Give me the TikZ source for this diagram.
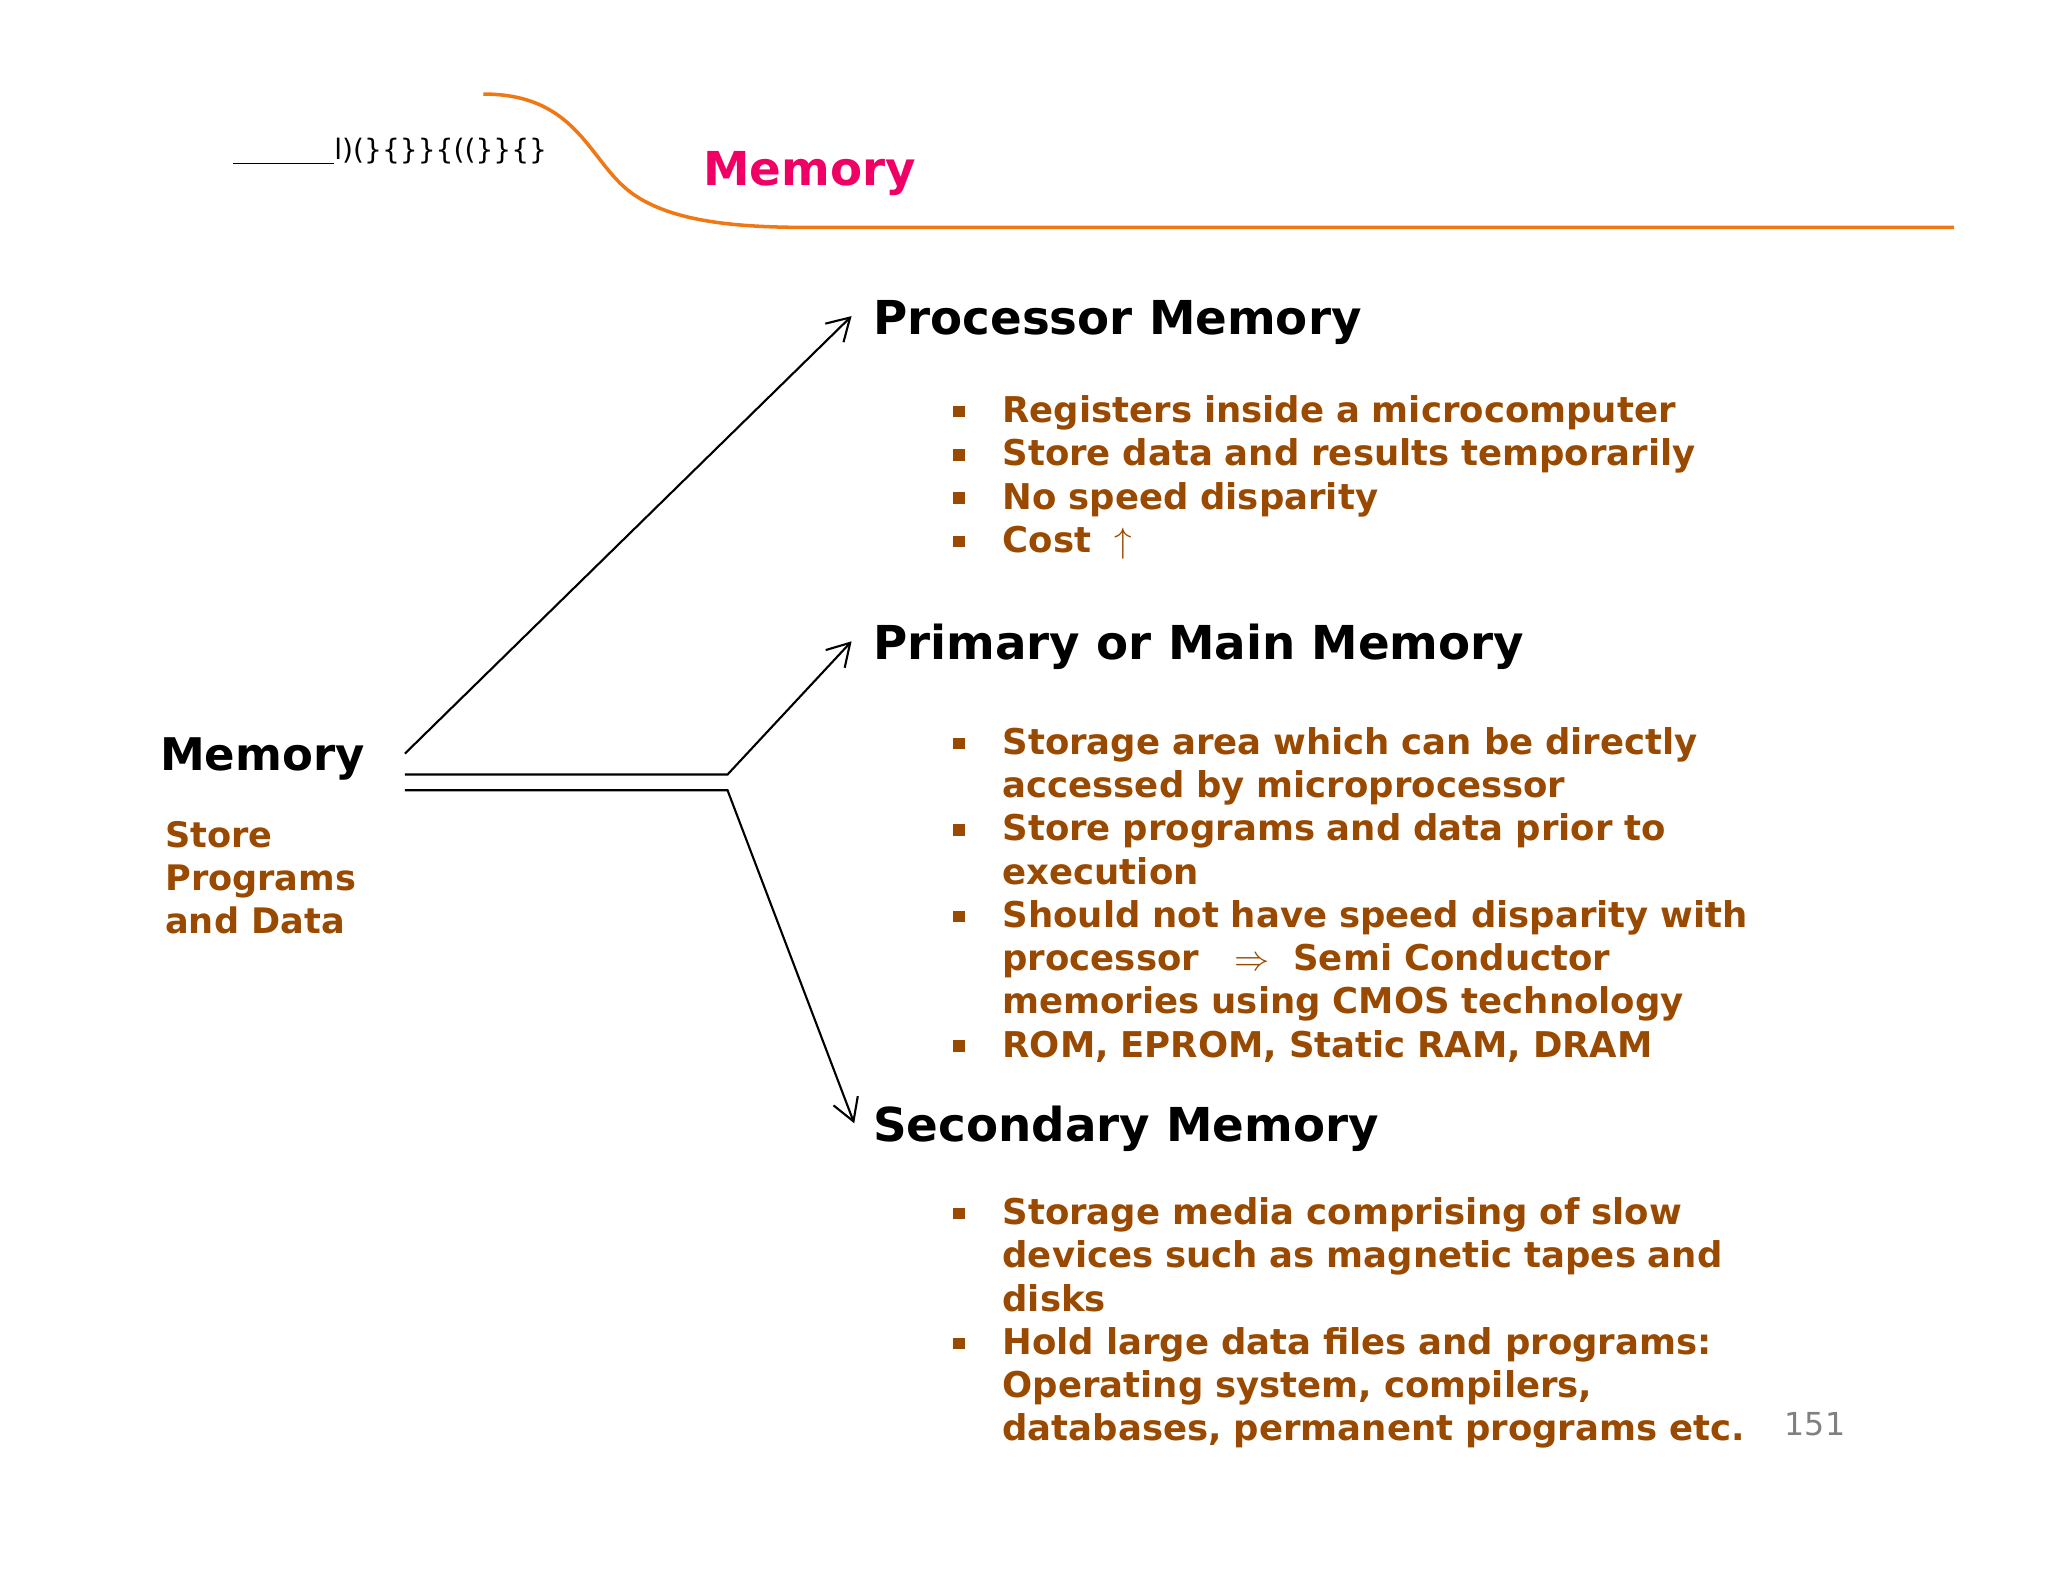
\documentclass[tikz,border=0pt]{standalone}
\usepackage{fontspec}
\usepackage{amssymb}
\usepackage{enumitem}
\setmainfont{DejaVu Sans}
\usetikzlibrary{positioning,arrows.meta}
\definecolor{brownish}{RGB}{153,74,0}
\definecolor{titlepink}{RGB}{240,0,100}
\definecolor{curveorange}{RGB}{240,120,20}
\newcommand{\blt}{\textcolor{brownish}{\rule[0.15em]{0.32em}{0.32em}}}
\setlist[itemize]{leftmargin=0.51cm,labelsep=0.38cm,label=\blt,itemsep=0pt,topsep=0pt,parsep=0pt}
\begin{document}
\begin{tikzpicture}[x=0.01306cm,y=-0.01306cm,
    head/.style={anchor=base west,inner sep=0pt,font=\bfseries\fontsize{13.3}{16}\selectfont},
    block/.style={anchor=north west,inner sep=0pt,text width=11cm,text=brownish,
        font=\bfseries\fontsize{10.1}{12.3}\selectfont},
    link/.style={line width=0.6pt,-{Straight Barb[length=2.2mm,width=2.6mm]}}]
    \useasboundingbox (0,0) rectangle (1568,1211);

    % header
    \draw[curveorange,line width=1pt] (370,72) .. controls (440,72) and (450,120) .. (480,145)
        .. controls (520,178) and (600,174) .. (660,174) -- (1496,174);
    \node[anchor=base west,inner sep=0pt,font=\footnotesize] (scribble) at (178,122) {\underline{\hspace{3.6em}}l)(\}\{\}\}\{((\}\}\{\}};
    \node[anchor=base west,inner sep=0pt,text=titlepink,font=\bfseries\fontsize{13.3}{15}\selectfont] (title) at (538,142) {Memory};

    % left side
    \node[head,font=\bfseries\fontsize{12.8}{15}\selectfont] (mem) at (122,590) {Memory};
    \node[anchor=north west,inner sep=0pt,text=brownish,align=left,
        font=\bfseries\fontsize{10}{12.3}\selectfont] (store) at (126,628) {Store\\Programs\\and Data};

    % headings
    \node[head] (proc) at (668,256) {Processor Memory};
    \node[head] (prim) at (668,505) {Primary or Main Memory};
    \node[head] (sec) at (668,874) {Secondary Memory};

    % bullet blocks
    \begin{scope}[every node/.append style={block}]
    \node (procl) at (728,290) {\begin{itemize}
        \item Registers inside a microcomputer
        \item Store data and results temporarily
        \item No speed disparity
        \item Cost \ $\uparrow$
    \end{itemize}};
    \node (priml) at (728,544) {\begin{itemize}
        \item Storage area which can be directly\\ accessed by microprocessor
        \item Store programs and data prior to\\ execution
        \item Should not have speed disparity with\\ processor \ \ $\Rightarrow$\ \ Semi Conductor\\ memories using CMOS technology
        \item ROM, EPROM, Static RAM, DRAM
    \end{itemize}};
    \node (secl) at (728,904) {\begin{itemize}
        \item Storage media comprising of slow\\ devices such as magnetic tapes and\\ disks
        \item Hold large data files and programs:\\ Operating system, compilers,\\ databases, permanent programs etc.
    \end{itemize}};
    \end{scope}
    \node[anchor=base west,inner sep=0pt,text=gray,font=\fontsize{9}{11}\selectfont] (page) at (1366,1099) {151};

    % connectors
    \coordinate (a1) at (310,577);
    \coordinate (a2) at (310,593);
    \coordinate (k2) at (557,593);
    \coordinate (a3) at (310,605);
    \coordinate (k3) at (557,605);
    \coordinate (t1) at (652,242);
    \coordinate (t2) at (652,491);
    \coordinate (t3) at (654,860);
    \draw[link] (a1) -- (t1);
    \draw[link] (a2) -- (k2) -- (t2);
    \draw[link] (a3) -- (k3) -- (t3);
\end{tikzpicture}
\end{document}
